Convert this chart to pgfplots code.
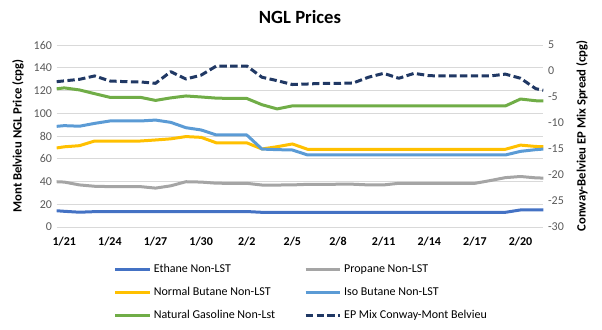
\documentclass[border=0pt]{standalone}
\usepackage{fontspec}
\setmainfont{Carlito}
\usepackage{pgfplots}
\usepackage{pgfplotstable}
\pgfplotsset{compat=1.18}
\definecolor{ethc}{HTML}{4472C4}
\definecolor{proc}{HTML}{A5A5A5}
\definecolor{nbuc}{HTML}{FFC000}
\definecolor{ibuc}{HTML}{5B9BD5}
\definecolor{ngc}{HTML}{70AD47}
\definecolor{epc}{HTML}{203864}
\definecolor{gridc}{HTML}{D9D9D9}
\definecolor{tickc}{HTML}{595959}

\pgfplotstableread{
d eth pro nbu ibu ng ep
-0.5 14.3 39.8 69.5 88.5 121.5 -2.05
0 13.8 39.5 70.5 89.1 122.3 -1.9
1 13.0 37.0 71.5 88.6 120.5 -1.6
2 13.5 35.8 75.6 91.1 117.2 -0.95
3 13.6 35.5 75.6 93.2 114.0 -1.92
4 13.6 35.5 75.6 93.2 114.0 -2.05
5 13.6 35.5 75.6 93.2 114.0 -2.1
6 13.6 34.2 76.5 94.0 111.3 -2.37
7 13.6 36.2 77.5 92.0 113.5 -0.13
8 13.6 39.8 79.5 87.3 115.2 -1.54
9 13.6 39.5 78.8 85.3 114.3 -0.8
10 13.6 38.5 74.0 80.9 113.3 0.96
11 13.6 38.4 74.0 80.9 113.0 0.96
12 13.6 38.4 74.0 80.9 113.0 0.96
13 12.9 36.9 68.6 68.5 107.5 -1.2
14 12.9 36.9 70.6 68.0 103.8 -1.86
15 12.9 37.0 73.0 67.7 106.5 -2.6
16 12.9 37.5 68.3 63.3 106.4 -2.5
17 12.9 37.5 68.3 63.3 106.4 -2.37
18 12.9 37.6 68.3 63.3 106.4 -2.37
19 12.9 37.6 68.3 63.3 106.4 -2.3
20 12.9 37.0 68.3 63.3 106.4 -1.2
21 12.9 37.0 68.3 63.3 106.4 -0.45
22 12.9 38.4 68.3 63.3 106.4 -1.4
23 12.9 38.4 68.3 63.3 106.4 -0.45
24 12.9 38.4 68.3 63.3 106.4 -0.9
25 12.9 38.4 68.3 63.3 106.4 -0.96
26 12.9 38.4 68.3 63.3 106.4 -0.96
27 12.9 38.4 68.3 63.3 106.4 -0.96
28 12.9 40.8 68.3 63.3 106.4 -0.96
29 12.9 43.4 68.3 63.3 106.4 -0.6
30 15.0 44.4 72.0 66.5 112.5 -1.4
31 15.0 43.2 70.8 68.0 111.0 -3.4
31.5 15.0 43.0 70.6 68.5 110.8 -3.7
}\ngl

\pgfplotsset{
  base/.style={
    scale only axis, width=365pt, height=136.5pt,
    at={(42.5pt,76.5pt)}, anchor=south west,
    xmin=-0.5, xmax=31.5,
    axis line style={draw=none},
    major tick length=0pt,
    clip=true,
    every axis plot/.append style={line width=2.25pt, line join=round},
    yticklabel style={font=\fontsize{9}{10}\selectfont, text=tickc},
  },
}

\begin{document}
\begin{tikzpicture}
\useasboundingbox (0,0) rectangle (451.5pt,246.75pt);
\begin{axis}[base,
  ymin=0, ymax=160,
  ytick={0,20,40,60,80,100,120,140,160},
  yticklabels={0,20,40,60,80,100,120,140,160},
  ymajorgrids, grid style={draw=gridc, line width=0.75pt},
  xtick={0,3,6,9,12,15,18,21,24,27,30},
  xticklabels={1/21,1/24,1/27,1/30,2/2,2/5,2/8,2/11,2/14,2/17,2/20},
  xticklabel style={font=\bfseries\fontsize{9}{10}\selectfont, text=black, yshift=-4pt},
  ylabel={Mont Belvieu NGL Price (cpg)},
  ylabel style={at={(axis description cs:-0.0795,0.5)}, anchor=center, rotate=0, font=\bfseries\fontsize{9.5}{11}\selectfont},
  title={NGL Prices},
  title style={at={(axis description cs:0.5,1.11)}, anchor=center, font=\bfseries\fontsize{14}{16}\selectfont},
]
\addplot[ethc] table[x=d, y=eth] {\ngl};
\addplot[proc] table[x=d, y=pro] {\ngl};
\addplot[nbuc] table[x=d, y=nbu] {\ngl};
\addplot[ibuc] table[x=d, y=ibu] {\ngl};
\addplot[ngc] table[x=d, y=ng] {\ngl};
\end{axis}
\begin{axis}[base,
  ymin=-30, ymax=5,
  ytick={-30,-25,-20,-15,-10,-5,0,5},
  yticklabels={-30,-25,-20,-15,-10,-5,0,5},
  yticklabel pos=right,
  yticklabel style={anchor=west},
  xtick=\empty,
  ylabel={Conway-Belvieu EP Mix Spread (cpg)},
  ylabel style={at={(axis description cs:1.0795,0.5)}, anchor=center, rotate=0, font=\bfseries\fontsize{9.5}{11}\selectfont},
  legend columns=2,
  legend cell align=left,
  legend image code/.code={\draw[#1] (0pt,0pt) -- (25.7pt,0pt);},
  legend style={at={(axis description cs:0.117,-0.19)}, anchor=north west, draw=none, fill=none,
    font=\fontsize{9}{11}\selectfont, inner sep=0pt, row sep=5.5pt,
    /tikz/every even column/.append style={column sep=19.8pt}},
]
\addlegendimage{ethc, line width=2.25pt}
\addlegendentry{Ethane Non-LST}
\addlegendimage{proc, line width=2.25pt}
\addlegendentry{Propane Non-LST}
\addlegendimage{nbuc, line width=2.25pt}
\addlegendentry{Normal Butane Non-LST}
\addlegendimage{ibuc, line width=2.25pt}
\addlegendentry{Iso Butane Non-LST}
\addlegendimage{ngc, line width=2.25pt}
\addlegendentry{Natural Gasoline Non-Lst}
\addplot[epc, dash pattern=on 5.5pt off 2.6pt] table[x=d, y=ep] {\ngl};
\addlegendentry{EP Mix Conway-Mont Belvieu}
\end{axis}
\end{tikzpicture}
\end{document}
